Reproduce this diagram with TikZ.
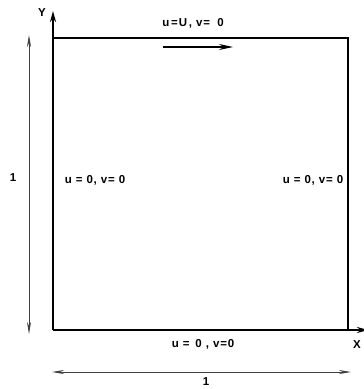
\documentclass[tikz,border=0pt]{standalone}
\usepackage{fontspec}
\setmainfont{Liberation Sans}
\newfontfamily\wallfont[LetterSpace=7]{Liberation Sans}
\usetikzlibrary{arrows.meta,positioning,calc}
\tikzset{
  bc/.style={font=\fontsize{11.5}{13}\wallfont\bfseries},
  dim/.style={line width=0.8pt,color=black!75,arrows={Stealth[length=12pt,width=4pt]-Stealth[length=12pt,width=4pt]}},
  ax/.style={line width=2pt,arrows={-Stealth[length=11pt,width=6pt]}}
}
\begin{document}
\begin{tikzpicture}[x=1pt,y=-1pt]
  \useasboundingbox (0,0) rectangle (364,389);
  \coordinate (O) at (53,330);
  \coordinate (A) at (348,330);
  \coordinate (B) at (348,38);
  \coordinate (C) at (53,38);
  \coordinate (Xend) at (368,330);
  \coordinate (Yend) at (53,11);
  % cavity walls
  \draw[line width=1.5pt] (O) -- (A) -- (B) -- (C);
  \draw[ax] (O) -- (Yend);
  \draw[ax] (A) -- (Xend);
  \node[bc] (Y) at (42,13) {Y};
  \node[bc] (X) at (357,345) {X};
  % lid
  \node[bc] (lid) at (193,23) {u\,=U\,, v=\; 0};
  \coordinate (l1) at (163,47);
  \coordinate (l2) at (233,47);
  \draw[line width=1.3pt,arrows={-Stealth[length=14pt,width=6pt]}] (l1) -- (l2);
  \node[bc] (wl) at (95,180) {u = 0, v= 0};
  \node[bc] (wr) at (313,180) {u = 0, v= 0};
  \node[bc] (wb) at (203,344) {u = \,0 , v=0};
  % dimensions
  \coordinate (d1) at (29,35);
  \coordinate (d2) at (29,334);
  \draw[dim] (d1) -- (d2);
  \node[bc] (h) at (13,178) {1};
  \coordinate (d3) at (52,372);
  \coordinate (d4) at (351,372);
  \draw[dim] (d3) -- (d4);
  \node[bc] (w) at (206,382) {1};
\end{tikzpicture}
\end{document}
